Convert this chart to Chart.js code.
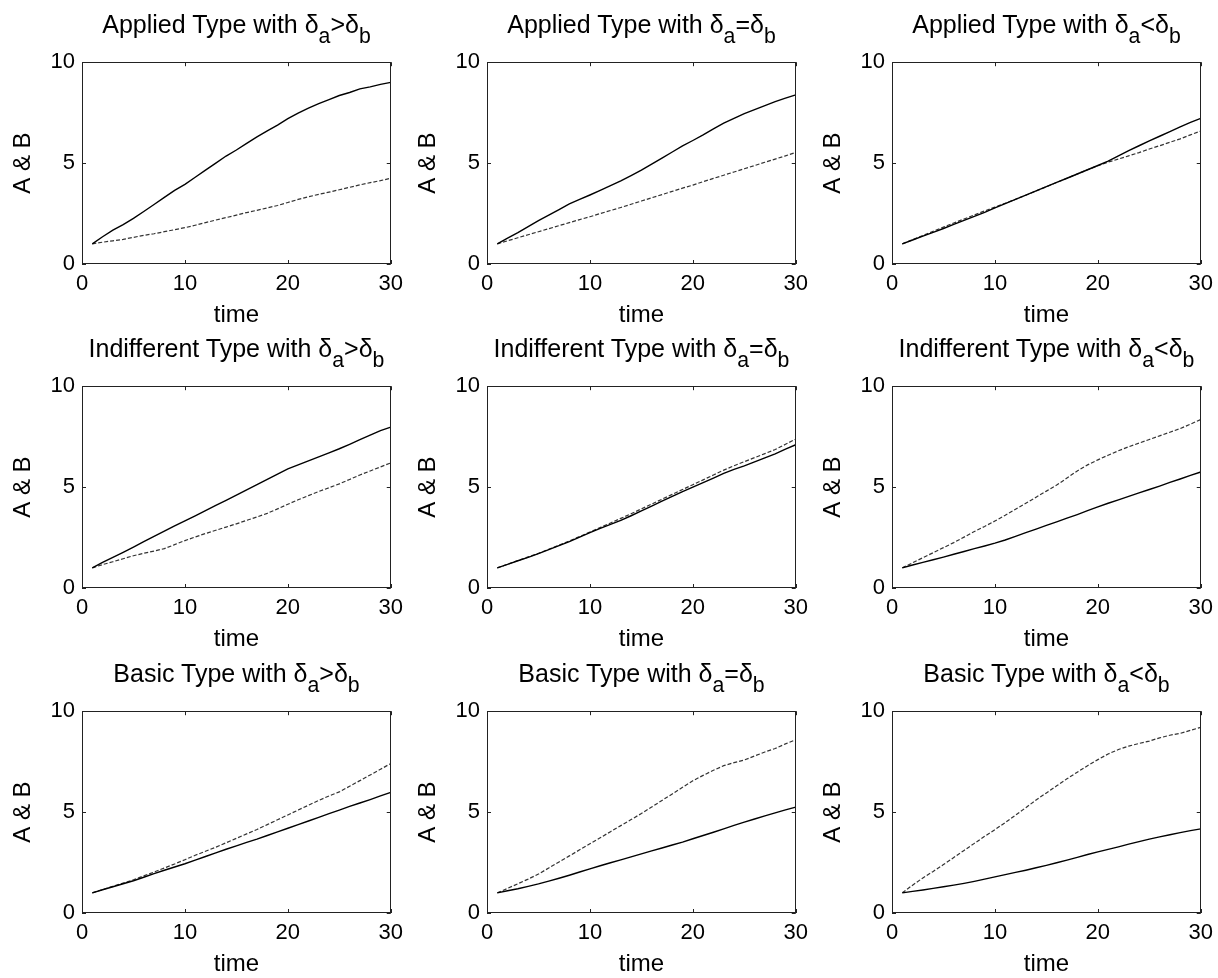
<!DOCTYPE html>
<html>
<head>
<meta charset="utf-8">
<script src="https://cdn.jsdelivr.net/npm/chart.js@4"></script>
<style>
body { margin: 0; background: #fff; width: 1218px; height: 978px; overflow: hidden; position: relative;
       font-family: "Liberation Sans", Arial, sans-serif; }
.panel { position: absolute; }
.ttl { position: absolute; font-size: 25px; white-space: nowrap; transform: translate(-50%, -50%); color: #000; }
.ttl sub { font-size: 0.85em; vertical-align: -0.5em; line-height: 0; }
</style>
</head>
<body>
<script>
// time steps and axis ticks
var times = [1, 2, 3, 4, 5, 6, 7, 8, 9, 10, 11, 12, 13, 14, 15, 16, 17, 18, 19, 20, 21, 22, 23, 24, 25, 26, 27, 28, 29, 30];
var xTicks = [0, 10, 20, 30];
var yTicks = [0, 5, 10];

var typeNames = ['Applied', 'Indifferent', 'Basic'];
var relations = ['>', '=', '<'];

// A = solid line, B = dashed line
var appliedGtA = [1.0, 1.35, 1.68, 1.95, 2.26, 2.6, 2.95, 3.3, 3.65, 3.95, 4.3, 4.65, 5.0, 5.35, 5.65, 5.98, 6.3, 6.6, 6.88, 7.2, 7.48, 7.72, 7.95, 8.15, 8.35, 8.5, 8.68, 8.78, 8.9, 9.0];
var appliedGtB = [1.0, 1.08, 1.15, 1.22, 1.32, 1.42, 1.5, 1.6, 1.7, 1.8, 1.92, 2.05, 2.18, 2.3, 2.42, 2.55, 2.66, 2.78, 2.9, 3.05, 3.2, 3.33, 3.45, 3.56, 3.68, 3.8, 3.92, 4.03, 4.13, 4.25];
var appliedEqA = [1.0, 1.28, 1.55, 1.85, 2.15, 2.42, 2.7, 2.98, 3.2, 3.42, 3.65, 3.88, 4.12, 4.38, 4.65, 4.95, 5.25, 5.55, 5.85, 6.12, 6.4, 6.7, 6.98, 7.22, 7.45, 7.65, 7.85, 8.05, 8.22, 8.38];
var appliedEqB = [1.0, 1.15, 1.3, 1.45, 1.6, 1.75, 1.9, 2.05, 2.2, 2.34, 2.5, 2.65, 2.8, 2.96, 3.12, 3.28, 3.44, 3.6, 3.76, 3.91, 4.08, 4.24, 4.4, 4.56, 4.72, 4.88, 5.04, 5.2, 5.36, 5.53];
var appliedLtA = [1.0, 1.19, 1.38, 1.57, 1.76, 1.96, 2.16, 2.36, 2.56, 2.78, 2.99, 3.2, 3.41, 3.62, 3.83, 4.04, 4.25, 4.46, 4.67, 4.88, 5.1, 5.36, 5.62, 5.86, 6.1, 6.33, 6.56, 6.8, 7.02, 7.22];
var appliedLtB = [1.0, 1.2, 1.41, 1.62, 1.83, 2.03, 2.23, 2.43, 2.63, 2.82, 3.01, 3.21, 3.41, 3.62, 3.83, 4.04, 4.25, 4.46, 4.67, 4.87, 5.05, 5.2, 5.36, 5.52, 5.7, 5.86, 6.03, 6.2, 6.4, 6.59];

var indiffGtA = [1.0, 1.27, 1.52, 1.77, 2.03, 2.3, 2.56, 2.82, 3.08, 3.33, 3.58, 3.84, 4.09, 4.34, 4.6, 4.86, 5.12, 5.38, 5.64, 5.9, 6.1, 6.3, 6.5, 6.7, 6.9, 7.12, 7.35, 7.58, 7.8, 7.97];
var indiffGtB = [1.0, 1.16, 1.3, 1.45, 1.6, 1.72, 1.83, 1.95, 2.15, 2.35, 2.53, 2.7, 2.86, 3.02, 3.18, 3.35, 3.52, 3.7, 3.92, 4.15, 4.37, 4.58, 4.78, 4.97, 5.16, 5.38, 5.6, 5.8, 6.0, 6.2];
var indiffEqA = [1.0, 1.17, 1.35, 1.52, 1.7, 1.9, 2.1, 2.3, 2.52, 2.74, 2.95, 3.15, 3.35, 3.58, 3.82, 4.06, 4.3, 4.54, 4.78, 5.0, 5.22, 5.45, 5.68, 5.88, 6.05, 6.25, 6.45, 6.65, 6.88, 7.1];
var indiffEqB = [1.0, 1.18, 1.36, 1.54, 1.72, 1.92, 2.12, 2.33, 2.55, 2.77, 3.0, 3.22, 3.45, 3.68, 3.92, 4.16, 4.4, 4.64, 4.88, 5.12, 5.36, 5.6, 5.84, 6.06, 6.26, 6.46, 6.66, 6.86, 7.12, 7.38];
var indiffLtA = [1.0, 1.14, 1.27, 1.4, 1.53, 1.67, 1.81, 1.95, 2.08, 2.22, 2.38, 2.56, 2.74, 2.92, 3.1, 3.28, 3.46, 3.64, 3.83, 4.02, 4.2, 4.37, 4.54, 4.71, 4.88, 5.05, 5.23, 5.4, 5.58, 5.75];
var indiffLtB = [1.0, 1.25, 1.5, 1.75, 2.0, 2.25, 2.52, 2.8, 3.05, 3.32, 3.6, 3.9, 4.2, 4.5, 4.8, 5.1, 5.45, 5.8, 6.1, 6.35, 6.58, 6.8, 7.0, 7.18, 7.36, 7.54, 7.72, 7.9, 8.12, 8.35];

var basicGtA = [1.0, 1.15, 1.3, 1.45, 1.6, 1.77, 1.95, 2.12, 2.28, 2.44, 2.62, 2.8, 2.98, 3.16, 3.33, 3.5, 3.66, 3.84, 4.02, 4.2, 4.38, 4.56, 4.74, 4.92, 5.1, 5.28, 5.45, 5.62, 5.8, 5.98];
var basicGtB = [1.0, 1.16, 1.32, 1.48, 1.65, 1.84, 2.03, 2.23, 2.43, 2.64, 2.86, 3.06, 3.26, 3.48, 3.7, 3.92, 4.14, 4.38, 4.62, 4.86, 5.1, 5.34, 5.58, 5.8, 6.0, 6.28, 6.56, 6.84, 7.12, 7.41];
var basicEqA = [1.0, 1.1, 1.2, 1.32, 1.44, 1.58, 1.72, 1.87, 2.03, 2.19, 2.34, 2.49, 2.63, 2.78, 2.93, 3.08, 3.22, 3.37, 3.51, 3.68, 3.84, 4.0, 4.17, 4.34, 4.5, 4.66, 4.81, 4.96, 5.11, 5.25];
var basicEqB = [1.0, 1.22, 1.45, 1.68, 1.93, 2.23, 2.53, 2.83, 3.13, 3.43, 3.73, 4.03, 4.33, 4.63, 4.93, 5.25, 5.58, 5.9, 6.23, 6.55, 6.82, 7.07, 7.3, 7.45, 7.58, 7.78, 7.98, 8.15, 8.38, 8.59];
var basicLtA = [1.0, 1.07, 1.14, 1.22, 1.3, 1.38, 1.47, 1.57, 1.68, 1.79, 1.9, 2.01, 2.12, 2.24, 2.36, 2.49, 2.62, 2.76, 2.9, 3.03, 3.15, 3.28, 3.41, 3.54, 3.66, 3.77, 3.88, 3.98, 4.08, 4.17];
var basicLtB = [1.0, 1.38, 1.74, 2.06, 2.4, 2.75, 3.1, 3.45, 3.8, 4.13, 4.48, 4.85, 5.22, 5.6, 5.95, 6.3, 6.65, 6.98, 7.3, 7.6, 7.88, 8.1, 8.27, 8.4, 8.52, 8.68, 8.81, 8.9, 9.05, 9.2];

var seriesA = [[appliedGtA, appliedEqA, appliedLtA], [indiffGtA, indiffEqA, indiffLtA], [basicGtA, basicEqA, basicLtA]];
var seriesB = [[appliedGtB, appliedEqB, appliedLtB], [indiffGtB, indiffEqB, indiffLtB], [basicGtB, basicEqB, basicLtB]];

var FONT = '"Liberation Sans", Arial, sans-serif';
var plotLefts = [82, 487, 892];
var plotTops = [62, 386, 711];
var PLOT_W = 309, PLOT_H = 202;
// chart.js reserves room for half tick labels at top and right of the plot
var Y_AXIS_W = 80, X_AXIS_H = 66, TOP_OFFSET = 20, RIGHT_OFFSET = 19;

// box around the plot area with inward ticks on all four sides
var boxTicks = {
    id: 'boxTicks',
    afterDatasetsDraw: function (chart) {
        var ctx = chart.ctx, a = chart.chartArea;
        var x = chart.scales.x, y = chart.scales.y;
        var len = 4;
        ctx.save();
        ctx.strokeStyle = '#222';
        ctx.lineWidth = 1;
        ctx.strokeRect(Math.round(a.left) + 0.5, Math.round(a.top) + 0.5,
            Math.round(a.right - a.left) - 1, Math.round(a.bottom - a.top) - 1);
        ctx.beginPath();
        x.ticks.forEach(function (t) {
            var px = Math.round(x.getPixelForValue(t.value)) + 0.5;
            ctx.moveTo(px, a.bottom); ctx.lineTo(px, a.bottom - len);
            ctx.moveTo(px, a.top); ctx.lineTo(px, a.top + len);
        });
        y.ticks.forEach(function (t) {
            var py = Math.round(y.getPixelForValue(t.value)) + 0.5;
            ctx.moveTo(a.left, py); ctx.lineTo(a.left + len, py);
            ctx.moveTo(a.right, py); ctx.lineTo(a.right - len, py);
        });
        ctx.stroke();
        ctx.restore();
    }
};

function points(values) {
    return times.map(function (t, i) { return { x: t, y: values[i] }; });
}

for (var r = 0; r < 3; r++) {
    for (var c = 0; c < 3; c++) {
        var div = document.createElement('div');
        div.className = 'panel';
        div.style.left = (plotLefts[c] - Y_AXIS_W) + 'px';
        div.style.top = (plotTops[r] - TOP_OFFSET) + 'px';
        var canvas = document.createElement('canvas');
        canvas.width = Y_AXIS_W + PLOT_W + RIGHT_OFFSET;
        canvas.height = TOP_OFFSET + PLOT_H + X_AXIS_H;
        div.appendChild(canvas);
        document.body.appendChild(div);

        var ttl = document.createElement('div');
        ttl.className = 'ttl';
        ttl.style.left = (plotLefts[c] + PLOT_W / 2) + 'px';
        ttl.style.top = (plotTops[r] - 38) + 'px';
        ttl.innerHTML = typeNames[r] + ' Type with &delta;<sub>a</sub>' +
            relations[c].replace('<', '&lt;').replace('>', '&gt;') + '&delta;<sub>b</sub>';
        document.body.appendChild(ttl);

        new Chart(canvas.getContext('2d'), {
            type: 'line',
            data: {
                datasets: [{
                    label: 'A',
                    data: points(seriesA[r][c]),
                    borderColor: '#000',
                    borderWidth: 1.4,
                    pointRadius: 0,
                    tension: 0,
                    fill: false
                }, {
                    label: 'B',
                    data: points(seriesB[r][c]),
                    borderColor: '#333',
                    borderWidth: 1.2,
                    borderDash: [4, 2],
                    pointRadius: 0,
                    tension: 0,
                    fill: false
                }]
            },
            options: {
                responsive: false,
                animation: false,
                layout: { padding: 0 },
                plugins: { legend: { display: false }, tooltip: { enabled: false } },
                scales: {
                    x: {
                        type: 'linear', min: 0, max: 30,
                        grid: { display: false, drawTicks: false },
                        border: { display: false },
                        afterBuildTicks: function (s) { s.ticks = xTicks.map(function (v) { return { value: v }; }); },
                        afterFit: function (s) { s.height = X_AXIS_H; },
                        ticks: { color: '#000', font: { size: 22, family: FONT }, padding: 7, maxRotation: 0, autoSkip: false },
                        title: { display: true, text: 'time', color: '#000', font: { size: 24, family: FONT }, padding: 0 }
                    },
                    y: {
                        type: 'linear', min: 0, max: 10,
                        grid: { display: false, drawTicks: false },
                        border: { display: false },
                        afterBuildTicks: function (s) { s.ticks = yTicks.map(function (v) { return { value: v }; }); },
                        afterFit: function (s) { s.width = Y_AXIS_W; },
                        ticks: { color: '#000', font: { size: 22, family: FONT }, padding: 7 },
                        title: { display: true, text: 'A & B', color: '#000', font: { size: 24, family: FONT }, padding: { top: 7, bottom: 0 } }
                    }
                }
            },
            plugins: [boxTicks]
        });
    }
}
</script>
</body>
</html>
